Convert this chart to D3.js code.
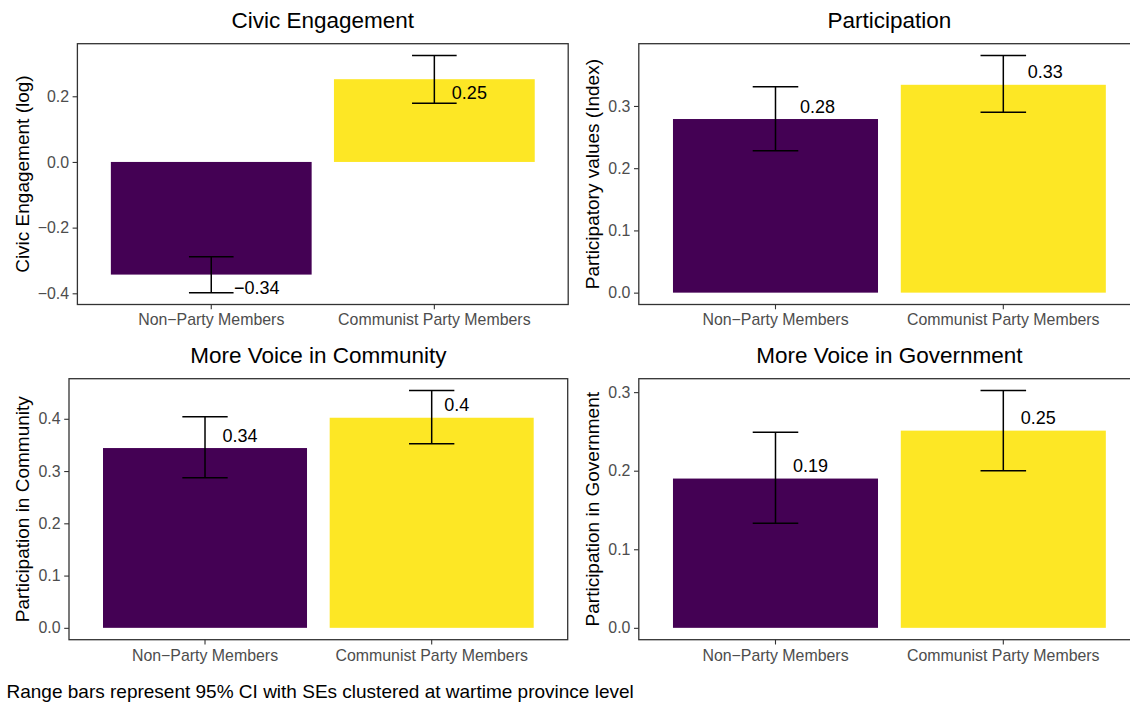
<!DOCTYPE html>
<html>
<head>
<meta charset="utf-8">
<script src="https://cdn.jsdelivr.net/npm/d3@7"></script>
<style>
  html, body { margin: 0; padding: 0; background: #fff; }
  svg { display: block; font-family: "Liberation Sans", Arial, Helvetica, sans-serif; }
</style>
</head>
<body>
<svg id="chart" width="1130" height="703"></svg>
<script>
// Groups compared in every panel
const categories = ["Non\u2212Party Members", "Communist Party Members"];
const barColors = ["#440154", "#FDE725"];

// Panel titles and y-axis titles
const panelTitles = ["Civic Engagement", "Participation", "More Voice in Community", "More Voice in Government"];
const yTitles = ["Civic Engagement (log)", "Participatory values (Index)", "Participation in Community", "Participation in Government"];

// Estimated means with 95% CI bounds (SEs clustered at wartime province level)
const civicMean = [-0.343, 0.252];
const civicLower = [-0.398, 0.179];
const civicUpper = [-0.289, 0.324];

const participationMean = [0.279, 0.334];
const participationLower = [0.228, 0.290];
const participationUpper = [0.331, 0.381];

const communityMean = [0.344, 0.402];
const communityLower = [0.287, 0.352];
const communityUpper = [0.404, 0.454];

const governmentMean = [0.190, 0.251];
const governmentLower = [0.133, 0.200];
const governmentUpper = [0.249, 0.302];

// Y tick values per panel
const civicTicks = [-0.4, -0.2, 0.0, 0.2];
const participationTicks = [0.0, 0.1, 0.2, 0.3];
const communityTicks = [0.0, 0.1, 0.2, 0.3, 0.4];
const governmentTicks = [0.0, 0.1, 0.2, 0.3];

const captionText = "Range bars represent 95% CI with SEs clustered at wartime province level";

// Panel layout: plotting region and value-label justification
const panels = [
  { mean: civicMean, lower: civicLower, upper: civicUpper, ticks: civicTicks,
    left: 77.4, right: 568.2, top: 43.7, bottom: 304.5, titleX: 28.5, hjust: -0.5, vjust: 1.5 },
  { mean: participationMean, lower: participationLower, upper: participationUpper, ticks: participationTicks,
    left: 638.8, right: 1140, top: 43.7, bottom: 304.5, titleX: 598.8, hjust: -0.7, vjust: -0.5 },
  { mean: communityMean, lower: communityLower, upper: communityUpper, ticks: communityTicks,
    left: 69, right: 567.7, top: 378.7, bottom: 639.7, titleX: 28.5, hjust: -0.5, vjust: -0.5 },
  { mean: governmentMean, lower: governmentLower, upper: governmentUpper, ticks: governmentTicks,
    left: 638.8, right: 1140, top: 378.7, bottom: 639.7, titleX: 598.8, hjust: -0.5, vjust: -0.5 }
];

const FONT_TITLE = 22.5, FONT_AXIS_TITLE = 19, FONT_TICK = 15.9, FONT_LABEL = 18, FONT_CAPTION = 19;
const TICK_LEN = 4.8, TICK_PAD = 3.6;
const fmtTick = d3.format(".1f");
const fmtLabel = v => String(Math.round(v * 100) / 100).replace("-", "\u2212");

const svg = d3.select("#chart");

panels.forEach((p, i) => {
  const g = svg.append("g");

  // expand the data range by 5% on each side
  const lo = Math.min(0, d3.min(p.lower)), hi = Math.max(0, d3.max(p.upper));
  const pad = (hi - lo) * 0.05;
  const y = d3.scaleLinear().domain([lo - pad, hi + pad]).range([p.bottom, p.top]);
  const x = d3.scaleBand().domain(categories).range([p.left, p.right])
    .paddingInner(0.1).paddingOuter(0.15);
  const capW = x.step() * 0.2;

  // bars
  g.selectAll("rect.bar").data(categories).join("rect")
    .attr("class", "bar")
    .attr("x", d => x(d))
    .attr("width", x.bandwidth())
    .attr("y", (d, j) => Math.min(y(0), y(p.mean[j])))
    .attr("height", (d, j) => Math.abs(y(0) - y(p.mean[j])))
    .attr("fill", (d, j) => barColors[j]);

  // confidence-interval range bars
  const eb = g.selectAll("g.eb").data(categories).join("g").attr("class", "eb")
    .attr("stroke", "#000").attr("stroke-width", 1.5).attr("fill", "none");
  eb.append("line")
    .attr("x1", d => x(d) + x.bandwidth() / 2).attr("x2", d => x(d) + x.bandwidth() / 2)
    .attr("y1", (d, j) => y(p.lower[j])).attr("y2", (d, j) => y(p.upper[j]));
  eb.append("line")
    .attr("x1", d => x(d) + x.bandwidth() / 2 - capW / 2).attr("x2", d => x(d) + x.bandwidth() / 2 + capW / 2)
    .attr("y1", (d, j) => y(p.lower[j])).attr("y2", (d, j) => y(p.lower[j]));
  eb.append("line")
    .attr("x1", d => x(d) + x.bandwidth() / 2 - capW / 2).attr("x2", d => x(d) + x.bandwidth() / 2 + capW / 2)
    .attr("y1", (d, j) => y(p.upper[j])).attr("y2", (d, j) => y(p.upper[j]));

  // value labels, justified relative to the mean
  const h = 0.716 * FONT_LABEL;
  g.selectAll("text.val").data(categories).join("text")
    .attr("class", "val")
    .attr("font-size", FONT_LABEL)
    .attr("fill", "#000")
    .text((d, j) => fmtLabel(p.mean[j]))
    .each(function (d, j) {
      const w = this.getComputedTextLength();
      const cx = x(d) + x.bandwidth() / 2;
      d3.select(this)
        .attr("x", cx - p.hjust * w)
        .attr("y", y(p.mean[j]) + p.vjust * h);
    });

  // panel border
  g.append("rect")
    .attr("x", p.left).attr("y", p.top)
    .attr("width", p.right - p.left).attr("height", p.bottom - p.top)
    .attr("fill", "none").attr("stroke", "#333333").attr("stroke-width", 1.3);

  // y axis
  const yAxis = g.append("g").attr("transform", `translate(${p.left},0)`)
    .call(d3.axisLeft(y).tickValues(p.ticks).tickFormat(fmtTick)
      .tickSize(TICK_LEN).tickPadding(TICK_PAD).tickSizeOuter(0));
  yAxis.select(".domain").remove();
  yAxis.selectAll(".tick line").attr("stroke", "#333333").attr("stroke-width", 1.1);
  yAxis.selectAll(".tick text").attr("fill", "#4D4D4D").attr("font-size", FONT_TICK)
    .attr("font-family", null);

  // x axis
  const xAxis = g.append("g").attr("transform", `translate(0,${p.bottom})`)
    .call(d3.axisBottom(x).tickSize(TICK_LEN).tickPadding(TICK_PAD + 1.2).tickSizeOuter(0));
  xAxis.select(".domain").remove();
  xAxis.selectAll(".tick line").attr("stroke", "#333333").attr("stroke-width", 1.1);
  xAxis.selectAll(".tick text").attr("fill", "#4D4D4D").attr("font-size", FONT_TICK)
    .attr("font-family", null);

  // panel title
  g.append("text")
    .attr("x", (p.left + p.right) / 2)
    .attr("y", p.top - 15.7)
    .attr("text-anchor", "middle")
    .attr("font-size", FONT_TITLE)
    .attr("fill", "#000")
    .text(panelTitles[i]);

  // y axis title
  g.append("text")
    .attr("transform", `translate(${p.titleX},${(p.top + p.bottom) / 2}) rotate(-90)`)
    .attr("text-anchor", "middle")
    .attr("font-size", FONT_AXIS_TITLE)
    .attr("fill", "#000")
    .text(yTitles[i]);
});

// caption
svg.append("text")
  .attr("x", 6.5).attr("y", 697.5)
  .attr("font-size", FONT_CAPTION)
  .attr("fill", "#000")
  .text(captionText);
</script>
</body>
</html>
